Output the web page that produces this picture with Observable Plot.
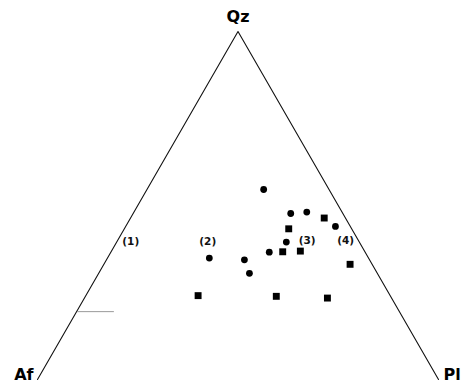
<!DOCTYPE html>
<html>
<head>
<meta charset="utf-8">
<script src="https://cdn.jsdelivr.net/npm/d3@7"></script>
<script src="https://cdn.jsdelivr.net/npm/@observablehq/plot@0.6"></script>
<style>
  html, body { margin: 0; padding: 0; background: #fff; }
  svg { display: block; }
</style>
</head>
<body>
<div id="chart"></div>
<script>
// Ternary compositions (fractions): Qz, Pl (Af = 1 - Qz - Pl)
const circleQz = [0.546, 0.477, 0.481, 0.440, 0.395, 0.366, 0.344, 0.305, 0.349];
const circlePl = [0.291, 0.393, 0.431, 0.523, 0.423, 0.395, 0.344, 0.376, 0.254];
const squareQz = [0.464, 0.433, 0.367, 0.369, 0.331, 0.239, 0.234, 0.241];
const squarePl = [0.483, 0.410, 0.428, 0.471, 0.614, 0.476, 0.606, 0.280];

const fieldLabels = ["(1)", "(2)", "(3)", "(4)"];
const fieldQz = [0.397, 0.397, 0.399, 0.399];
const fieldPl = [0.034, 0.226, 0.473, 0.569];

const vertexNames = ["Qz", "Af", "Pl"];
const vertexQz = [1, 0, 0];
const vertexPl = [0, 0, 1];

// faint residual stroke near Af side
const faintQz = [0.195, 0.195];
const faintPl = [0.002, 0.092];

const H = 348 / 401; // vertical extent of the triangle in x-units
const tx = (q, p) => p + q / 2;
const ty = (q) => q * H;

const circles = circleQz.map((q, i) => ({x: tx(q, circlePl[i]), y: ty(q)}));
const squares = squareQz.map((q, i) => ({x: tx(q, squarePl[i]), y: ty(q)}));
const fields = fieldLabels.map((t, i) => ({t, x: tx(fieldQz[i], fieldPl[i]), y: ty(fieldQz[i])}));
const vertices = vertexNames.map((t, i) => ({t, x: tx(vertexQz[i], vertexPl[i]), y: ty(vertexQz[i])}));
// outline: Af -> Qz -> Pl (no base line drawn)
const outline = [vertices[1], vertices[0], vertices[2]];
const faint = faintQz.map((q, i) => ({x: tx(q, faintPl[i]), y: ty(q)}));

const labelFont = "DejaVu Sans, Liberation Sans, sans-serif";

const chart = Plot.plot({
  width: 463,
  height: 385,
  marginLeft: 37,
  marginRight: 25,
  marginTop: 31,
  marginBottom: 6,
  style: {fontFamily: labelFont, background: "#fff"},
  x: {domain: [0, 1], axis: null},
  y: {domain: [0, H], axis: null},
  marks: [
    Plot.line(outline, {x: "x", y: "y", stroke: "#111", strokeWidth: 1.1}),
    Plot.line(faint, {x: "x", y: "y", stroke: "#9a9a9a", strokeWidth: 1}),
    Plot.dot(circles, {x: "x", y: "y", r: 3.4, fill: "#000", stroke: "none"}),
    Plot.dot(squares, {x: "x", y: "y", r: 3.9, symbol: "square", fill: "#000", stroke: "none"}),
    Plot.text(fields, {x: "x", y: "y", text: "t", fontSize: 10.5, fontWeight: "bold", fill: "#111"}),
    Plot.text([vertices[0]], {x: "x", y: "y", text: "t", fontSize: 16, fontWeight: "bold", dy: -14.5, fill: "#000"}),
    Plot.text([vertices[1]], {x: "x", y: "y", text: "t", fontSize: 16, fontWeight: "bold", textAnchor: "end", dx: -4, dy: -5, fill: "#000"}),
    Plot.text([vertices[2]], {x: "x", y: "y", text: "t", fontSize: 16, fontWeight: "bold", textAnchor: "start", dx: 5, dy: -5, fill: "#000"})
  ]
});
document.getElementById("chart").appendChild(chart);
</script>
</body>
</html>
